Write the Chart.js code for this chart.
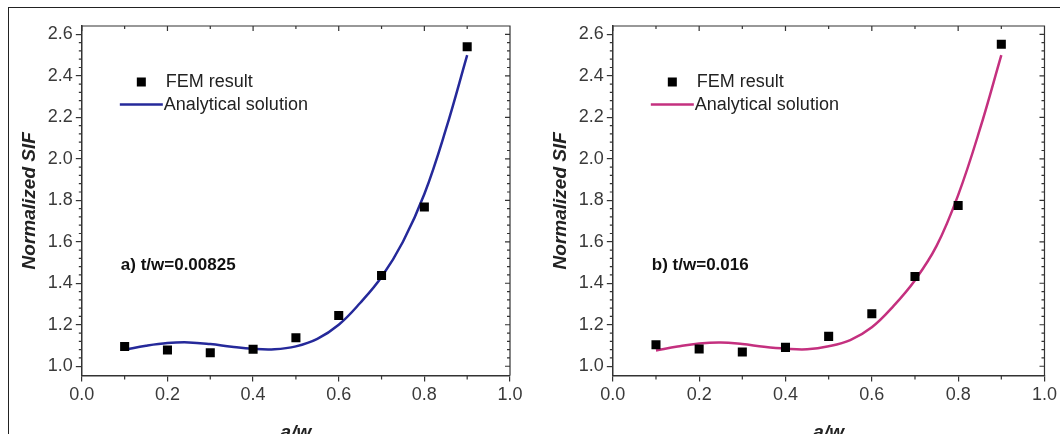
<!DOCTYPE html>
<html>
<head>
<meta charset="utf-8">
<script src="https://cdn.jsdelivr.net/npm/chart.js@4.4.1/dist/chart.umd.min.js"></script>
<style>
html, body { margin: 0; padding: 0; background: #fff; overflow: hidden; width: 1060px; height: 434px; }
#frame { position: absolute; left: 8px; top: 7px; width: 1060px; height: 460px; border: 1.5px solid #222; box-sizing: border-box; }
.panel { position: absolute; top: 0; width: 530px; height: 460px; }
</style>
</head>
<body>
<div id="frame"></div>
<div class="panel" style="left:0"><canvas id="chartA" width="530" height="460"></canvas></div>
<div class="panel" style="left:530px"><canvas id="chartB" width="530" height="460"></canvas></div>
<script>
// a/w positions of the FEM runs
const awPoints = [0.1, 0.2, 0.3, 0.4, 0.5, 0.6, 0.7, 0.8, 0.9];
const femA = [1.095, 1.078, 1.065, 1.082, 1.137, 1.245, 1.437, 1.768, 2.540];
const femB = [1.104, 1.083, 1.069, 1.091, 1.144, 1.253, 1.433, 1.775, 2.552];

// analytical curve
const curveX = [0.1, 0.15, 0.2, 0.25, 0.3, 0.35, 0.4, 0.45, 0.5, 0.55, 0.6, 0.65, 0.7, 0.75, 0.8, 0.85, 0.9];
const curveA = [1.080, 1.099, 1.112, 1.115, 1.107, 1.094, 1.084, 1.082, 1.096, 1.132, 1.200, 1.305, 1.430, 1.600, 1.830, 2.140, 2.500];
const curveB = [1.076, 1.095, 1.110, 1.115, 1.107, 1.094, 1.085, 1.082, 1.096, 1.126, 1.188, 1.290, 1.415, 1.580, 1.825, 2.140, 2.500];

const xTicks = [0.0, 0.2, 0.4, 0.6, 0.8, 1.0];
const yTicks = [1.0, 1.2, 1.4, 1.6, 1.8, 2.0, 2.2, 2.4, 2.6];

const FONT = "'Liberation Sans', Arial, sans-serif";
const axisColor = '#333';
const tickColor = '#3a3a3a';

// frame on top/right, minor ticks, in-plot legend and note
const frameTicks = {
    id: 'frameTicks',
    afterDraw(chart, args, opts) {
        const { ctx, chartArea: a, scales: { x, y } } = chart;
        ctx.save();
        ctx.strokeStyle = axisColor;
        ctx.lineWidth = 1.2;
        ctx.beginPath();
        ctx.moveTo(a.left, a.top); ctx.lineTo(a.right, a.top); ctx.lineTo(a.right, a.bottom);

        for (let i = 0; i <= 10; i++) {
            const px = x.getPixelForValue(i / 10);
            ctx.moveTo(px, a.top); ctx.lineTo(px, a.top + (i % 2 ? 3 : 5));
            if (i % 2) { ctx.moveTo(px, a.bottom); ctx.lineTo(px, a.bottom + 4); }
        }
        for (let i = 0; i <= 40; i++) {
            const v = 1.0 + i * 0.04;
            const py = y.getPixelForValue(v);
            const major = i % 5 === 0;
            ctx.moveTo(a.right, py); ctx.lineTo(a.right - (major ? 5 : 3), py);
            if (!major) { ctx.moveTo(a.left, py); ctx.lineTo(a.left - 3, py); }
        }
        ctx.stroke();

        // legend
        const fem = chart.data.datasets[0];
        const ana = chart.data.datasets[1];
        ctx.fillStyle = fem.backgroundColor;
        ctx.fillRect(a.left + 55, a.top + 51.5, 9, 9);
        ctx.strokeStyle = ana.borderColor;
        ctx.lineWidth = 2.5;
        ctx.beginPath();
        ctx.moveTo(a.left + 38, a.top + 78.5); ctx.lineTo(a.left + 81, a.top + 78.5);
        ctx.stroke();

        ctx.fillStyle = '#222';
        ctx.font = '18px ' + FONT;
        ctx.textBaseline = 'middle';
        ctx.fillText(fem.label, a.left + 84, a.top + 56);
        ctx.fillText(ana.label, a.left + 82, a.top + 79);

        ctx.font = 'bold 17px ' + FONT;
        ctx.fillStyle = '#111';
        ctx.fillText(opts.note, a.left + 39, a.top + 239);
        ctx.restore();
    }
};

function makeChart(id, femVals, curveVals, lineColor, note, pad) {
    return new Chart(document.getElementById(id), {
        type: 'scatter',
        data: {
            datasets: [{
                label: 'FEM result',
                data: awPoints.map((x, i) => ({ x: x, y: femVals[i] })),
                pointStyle: 'rect',
                pointRadius: 6.4,
                backgroundColor: '#000',
                borderColor: '#000',
                borderWidth: 0,
                showLine: false
            }, {
                label: 'Analytical solution',
                data: curveX.map((x, i) => ({ x: x, y: curveVals[i] })),
                showLine: true,
                borderColor: lineColor,
                borderWidth: 2.5,
                pointRadius: 0,
                tension: 0.4,
                fill: false
            }]
        },
        options: {
            responsive: false,
            animation: false,
            layout: { padding: pad },
            plugins: {
                legend: { display: false },
                tooltip: { enabled: false },
                frameTicks: { note: note }
            },
            scales: {
                x: {
                    type: 'linear', min: 0, max: 1,
                    afterBuildTicks: s => { s.ticks = xTicks.map(v => ({ value: v })); },
                    grid: { drawOnChartArea: false, drawTicks: true, tickLength: 6, color: axisColor, lineWidth: 1.2 },
                    border: { display: true, color: axisColor, width: 1.5 },
                    ticks: { color: tickColor, font: { family: FONT, size: 18 }, padding: 3, maxRotation: 0,
                             callback: v => Number(v).toFixed(1) },
                    title: { display: true, text: 'a/w', color: '#222',
                             font: { family: FONT, size: 19, weight: 'bold', style: 'italic' },
                             padding: { top: 12, bottom: 0 } }
                },
                y: {
                    type: 'linear', min: 0.955, max: 2.64,
                    afterBuildTicks: s => { s.ticks = yTicks.map(v => ({ value: v })); },
                    grid: { drawOnChartArea: false, drawTicks: true, tickLength: 6, color: axisColor, lineWidth: 1.2 },
                    border: { display: true, color: axisColor, width: 1.5 },
                    ticks: { color: tickColor, font: { family: FONT, size: 18 }, padding: 3,
                             callback: v => Number(v).toFixed(1) },
                    title: { display: true, text: 'Normalized SIF', color: '#222',
                             font: { family: FONT, size: 19, weight: 'bold', style: 'italic' },
                             padding: { top: 0, bottom: 4 } }
                }
            }
        },
        plugins: [frameTicks]
    });
}

makeChart('chartA', femA, curveA, '#25299a', 'a) t/w=0.00825', { left: 18, right: 20, top: 26, bottom: 16 });
makeChart('chartB', femB, curveB, '#c4307f', 'b) t/w=0.016', { left: 19, right: 13, top: 26, bottom: 16 });
</script>
</body>
</html>
